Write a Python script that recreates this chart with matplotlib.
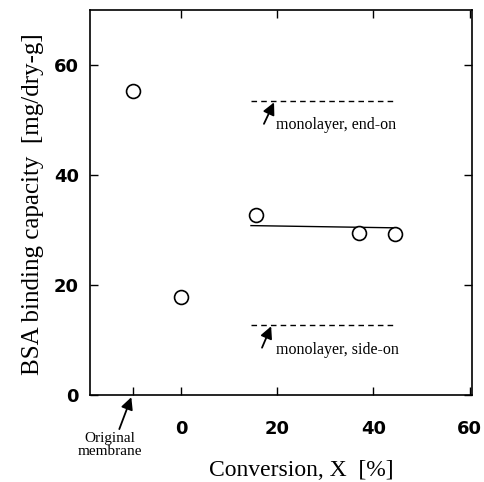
import matplotlib.pyplot as plt
import numpy as np

# data
conv = [-10, 0, 15.5, 37, 44.5]          # -10 stands for the original membrane
bsa = [55.2, 17.8, 32.8, 29.5, 29.3]
fit_x = [14.5, 44]
fit_y = [30.8, 30.4]
endon_x = [14.5, 44]
endon_y = [53.5, 53.5]
sideon_x = [14.5, 44]
sideon_y = [12.8, 12.8]
xticks = [0, 20, 40, 60]
yticks = [0, 20, 40, 60]
orig_tick = [-10]

serif = "Liberation Serif"
fig = plt.figure(figsize=(4.85, 4.82), dpi=100)
ax = fig.add_axes([90/485, 1-395/482, 382/485, 385/482])

ax.plot(conv, bsa, "o", mfc="white", mec="black", ms=10, mew=1.2, zorder=3)
ax.plot(fit_x, fit_y, "-", color="black", lw=1)
ax.plot(endon_x, endon_y, "--", color="black", lw=1, dashes=(4, 3))
ax.plot(sideon_x, sideon_y, "--", color="black", lw=1, dashes=(4, 3))

ax.set_xlim(-19, 60.5)
ax.set_ylim(0, 70)
ax.set_xticks(xticks)
ax.set_xticks(orig_tick, minor=True)
ax.set_yticks(yticks)
ax.tick_params(direction="in", length=6, width=1, top=True, right=True, labelsize=13)
ax.tick_params(axis="x", which="minor", direction="in", length=6, width=1, top=False)
ax.tick_params(axis="x", pad=18)
ax.tick_params(axis="y", pad=8)
for lab in ax.get_xticklabels() + ax.get_yticklabels():
    lab.set_fontweight("bold")
    lab.set_family("DejaVu Sans")
for s in ax.spines.values():
    s.set_linewidth(1.2)

ax.set_xlabel("Conversion, X  [%]", family=serif, fontsize=17, va="center")
ax.xaxis.set_label_coords(0.552, -0.197)
ax.set_ylabel("BSA binding capacity  [mg/dry-g]", family=serif, fontsize=18, va="center")
ax.yaxis.set_label_coords(-0.149, 0.495)

arrow = dict(arrowstyle="-|>,head_length=0.6,head_width=0.3", color="black",
             lw=1.3, mutation_scale=12, shrinkA=0, shrinkB=0)
ax.annotate("", xy=(19.3, 53.2), xytext=(17.2, 49.3), arrowprops=arrow)
ax.text(19.8, 49.1, "monolayer, end-on", family=serif, fontsize=11.5, va="center")
ax.annotate("", xy=(18.7, 12.5), xytext=(16.8, 8.6), arrowprops=arrow)
ax.text(19.8, 8.2, "monolayer, side-on", family=serif, fontsize=11.5, va="center")

ax.annotate("", xy=(-10.4, -0.4), xytext=(-12.9, -6.2), annotation_clip=False,
            arrowprops=arrow)
ax.text(-14.8, -6.7, "Original\nmembrane", ha="center", va="top", family=serif,
        fontsize=11, linespacing=1.0, clip_on=False)

fig.savefig("out.png", dpi=100)
